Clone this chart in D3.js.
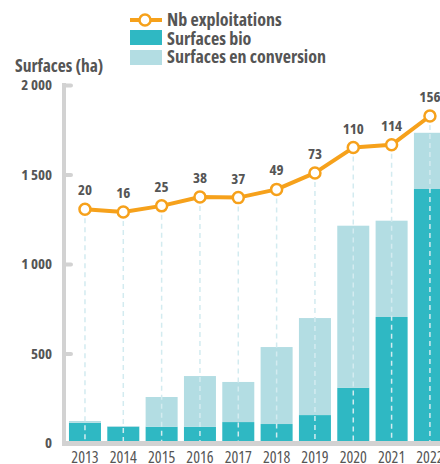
<!DOCTYPE html>
<html>
<head>
<meta charset="utf-8">
<script src="https://cdn.jsdelivr.net/npm/d3@7"></script>
<style>
  body { margin: 0; background: #fff; }
  svg { display: block; }
  text { font-family: 'Open Sans', 'Noto Sans', sans-serif; font-stretch: condensed; fill: #555; }
</style>
</head>
<body>
<div class="container"></div>
<script>
const years = ['2013', '2014', '2015', '2016', '2017', '2018', '2019', '2020', '2021', '2022'];
const surfacesBio = [113, 91, 91, 91, 117, 106, 156, 309, 704, 1419];
const surfacesConversion = [10, 4, 166, 283, 224, 430, 542, 905, 538, 314];
const nbExploitations = [20, 16, 25, 38, 37, 49, 73, 110, 114, 156];
const yTicks = [0, 500, 1000, 1500, 2000];

const width = 440;
const height = 464;

const colors = {bio: '#2fb8c3', conv: '#b3dde3', line: '#f6a11b', axis: '#d2d2d2', guide: '#d3ebf0'};

const locale = d3.formatLocale({decimal: ',', thousands: ' ', grouping: [3], currency: ['', ' €']});
const fmt = locale.format(',');

const svg = d3.select('.container')
  .append('svg')
  .attr('width', width)
  .attr('height', height);

const xScale = d3.scaleBand()
  .domain(years)
  .range([65.8, 449.1])
  .paddingInner(0.165)
  .paddingOuter(0.0825);

const yScale = d3.scaleLinear()
  .domain([0, 2000])
  .range([443, 85]);

// hidden scale for the number of farms
const y2Scale = d3.scaleLinear()
  .domain([0, 156])
  .range([223, 116]);

const data = years.map((y, i) => ({
  year: y, bio: surfacesBio[i], conv: surfacesConversion[i], nb: nbExploitations[i]
}));

// stacked bars
const stack = d3.stack().keys(['bio', 'conv'])(data);
svg.append('g')
  .selectAll('g')
  .data(stack)
  .enter().append('g')
  .attr('fill', d => d.key === 'bio' ? colors.bio : colors.conv)
  .selectAll('rect')
  .data(d => d)
  .enter().append('rect')
  .attr('x', d => xScale(d.data.year))
  .attr('width', xScale.bandwidth())
  .attr('y', d => yScale(d[1]))
  .attr('height', d => yScale(d[0]) - yScale(d[1]));

// dashed guides from each point
svg.append('g')
  .selectAll('line')
  .data(data)
  .enter().append('line')
  .attr('x1', d => xScale(d.year) + xScale.bandwidth() / 2)
  .attr('x2', d => xScale(d.year) + xScale.bandwidth() / 2)
  .attr('y1', d => y2Scale(d.nb))
  .attr('y2', yScale(0))
  .attr('stroke', colors.guide)
  .attr('stroke-width', 1.5)
  .attr('stroke-dasharray', '5,4');

// y axis
const yAxis = d3.axisLeft(yScale)
  .tickValues(yTicks)
  .tickSizeInner(-7)
  .tickSizeOuter(0)
  .tickPadding(12)
  .tickFormat(fmt);
const axisG = svg.append('g')
  .attr('transform', 'translate(64,0)')
  .call(yAxis);
axisG.attr('font-family', null);
axisG.select('.domain').remove();
axisG.selectAll('.tick line')
  .attr('stroke', colors.axis)
  .attr('stroke-width', 4)
  .attr('stroke-linecap', 'round');
axisG.selectAll('.tick text')
  .attr('fill', '#555')
  .style('font-size', '15px')
  .style('font-weight', 'bold');
axisG.append('line')
  .attr('x1', 0).attr('x2', 0)
  .attr('y1', yScale(2000) - 2).attr('y2', yScale(0))
  .attr('stroke', colors.axis)
  .attr('stroke-width', 4);

// x baseline and labels
svg.append('line')
  .attr('x1', 62).attr('x2', width)
  .attr('y1', yScale(0) + 0.5).attr('y2', yScale(0) + 0.5)
  .attr('stroke', colors.axis)
  .attr('stroke-width', 5);
svg.append('g')
  .selectAll('text')
  .data(years)
  .enter().append('text')
  .attr('x', d => xScale(d) + xScale.bandwidth() / 2)
  .attr('y', 463)
  .attr('text-anchor', 'middle')
  .style('font-size', '16px')
  .text(d => d);

// farms line
svg.append('path')
  .datum(data)
  .attr('fill', 'none')
  .attr('stroke', colors.line)
  .attr('stroke-width', 4)
  .attr('stroke-linejoin', 'round')
  .attr('d', d3.line()
    .x(d => xScale(d.year) + xScale.bandwidth() / 2)
    .y(d => y2Scale(d.nb)));
svg.append('g')
  .selectAll('circle')
  .data(data)
  .enter().append('circle')
  .attr('cx', d => xScale(d.year) + xScale.bandwidth() / 2)
  .attr('cy', d => y2Scale(d.nb))
  .attr('r', 5.5)
  .attr('fill', '#fff')
  .attr('stroke', colors.line)
  .attr('stroke-width', 2.5);
svg.append('g')
  .selectAll('text')
  .data(data)
  .enter().append('text')
  .attr('x', d => xScale(d.year) + xScale.bandwidth() / 2)
  .attr('y', d => y2Scale(d.nb) - 14)
  .attr('text-anchor', 'middle')
  .style('font-size', '15px')
  .style('font-weight', 'bold')
  .text(d => d.nb);

// axis title
svg.append('text')
  .attr('x', 15)
  .attr('y', 72)
  .style('font-size', '17.5px')
  .style('font-weight', 'bold')
  .text('Surfaces (ha)');

// legend
const legend = svg.append('g');
legend.append('line')
  .attr('x1', 130).attr('x2', 162)
  .attr('y1', 20).attr('y2', 20)
  .attr('stroke', colors.line)
  .attr('stroke-width', 4);
legend.append('circle')
  .attr('cx', 145).attr('cy', 20).attr('r', 5.5)
  .attr('fill', '#fff')
  .attr('stroke', colors.line)
  .attr('stroke-width', 2.5);
legend.append('rect')
  .attr('x', 130).attr('y', 30).attr('width', 32).attr('height', 15)
  .attr('fill', colors.bio);
legend.append('rect')
  .attr('x', 130).attr('y', 50).attr('width', 32).attr('height', 15)
  .attr('fill', colors.conv);
const legendLabels = ['Nb exploitations', 'Surfaces bio', 'Surfaces en conversion'];
legend.selectAll('text.lab')
  .data(legendLabels)
  .enter().append('text')
  .attr('class', 'lab')
  .attr('x', 167)
  .attr('y', (d, i) => 26 + i * 18.5)
  .style('font-size', '18px')
  .style('font-weight', 'bold')
  .text(d => d);
</script>
</body>
</html>
